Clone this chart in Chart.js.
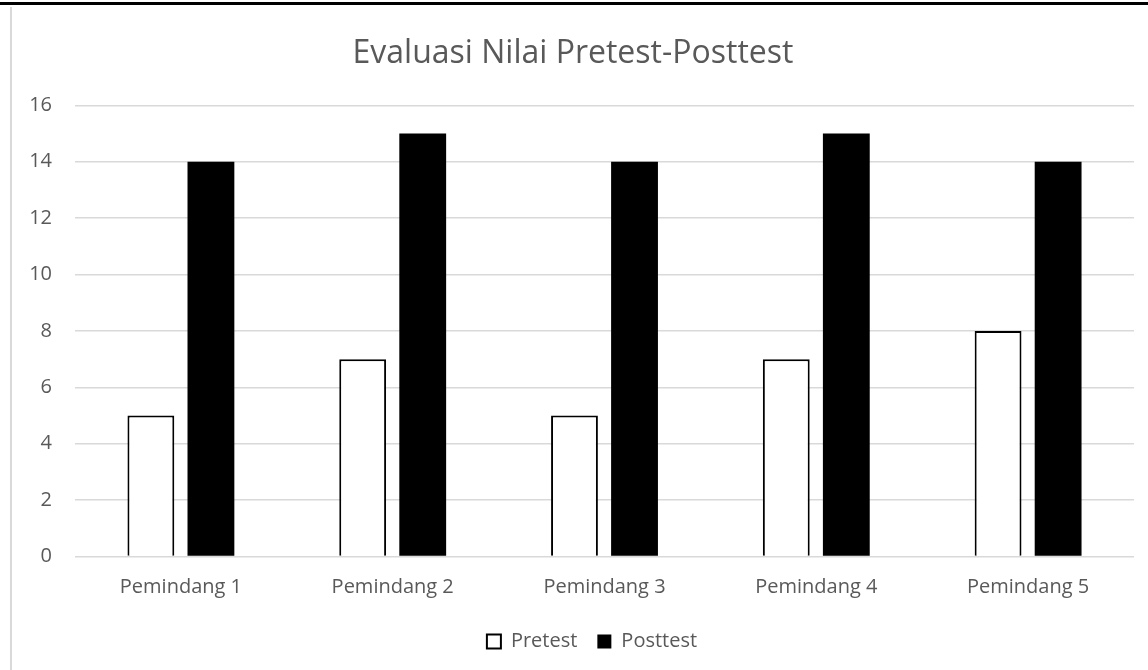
<!DOCTYPE html>
<html>
<head>
<meta charset="utf-8">
<script src="https://cdn.jsdelivr.net/npm/chart.js@4"></script>
<style>
    html, body { margin: 0; padding: 0; background: #fff; }
    body { width: 1148px; height: 670px; position: relative; overflow: hidden; }
    .topline { position: absolute; left: 0; top: 2px; width: 1148px; height: 3px; background: #000; }
    .frame { position: absolute; left: 10px; top: 7px; width: 1138px; height: 663px; border-left: 2px solid #d9d9d9; box-sizing: border-box; }
    .frame canvas { display: block; }
</style>
</head>
<body>
<div class="topline"></div>
<div class="frame">
    <canvas id="nilaiChart" width="1136" height="663"></canvas>
</div>
<script>
// Data
const categories = ['Pemindang 1', 'Pemindang 2', 'Pemindang 3', 'Pemindang 4', 'Pemindang 5'];
const pretest = [5, 7, 5, 7, 8];
const posttest = [14, 15, 14, 15, 14];
const yTicks = [0, 2, 4, 6, 8, 10, 12, 14, 16];

document.addEventListener('DOMContentLoaded', function() {
    const textColor = '#595959';
    const font = 'Open Sans';

    // legend sits a bit right of center in the original
    const shiftLegend = {
        id: 'shiftLegend',
        afterLayout: function(chart) {
            chart.legend.left += 19;
            chart.legend.right += 19;
        }
    };

    new Chart(document.getElementById('nilaiChart'), {
        type: 'bar',
        data: {
            labels: categories,
            datasets: [{
                label: 'Pretest',
                data: pretest,
                backgroundColor: '#ffffff',
                borderColor: '#000000',
                borderWidth: { left: 2, right: 2, top: 2, bottom: 0 },
                borderSkipped: false,
                categoryPercentage: 0.567,
                barPercentage: 0.78
            }, {
                label: 'Posttest',
                data: posttest,
                backgroundColor: '#000000',
                borderColor: '#000000',
                borderWidth: 0,
                categoryPercentage: 0.567,
                barPercentage: 0.78
            }]
        },
        options: {
            responsive: false,
            animation: false,
            layout: {
                padding: { left: 0, right: 14, top: 0, bottom: 8.5 }
            },
            plugins: {
                title: {
                    display: true,
                    text: 'Evaluasi Nilai Pretest-Posttest',
                    color: textColor,
                    font: { family: font, size: 32, weight: 'normal' },
                    padding: { top: 27.5, bottom: 32.5 }
                },
                legend: {
                    position: 'bottom',
                    labels: {
                        color: textColor,
                        font: { family: font, size: 20 },
                        boxWidth: 14,
                        boxHeight: 14,
                        padding: 20,
                        useBorderRadius: false,
                        generateLabels: function(chart) {
                            return chart.data.datasets.map(function(ds, i) {
                                return {
                                    text: ds.label,
                                    fillStyle: ds.backgroundColor,
                                    strokeStyle: '#000000',
                                    lineWidth: i === 0 ? 2 : 0,
                                    fontColor: textColor,
                                    datasetIndex: i
                                };
                            });
                        }
                    }
                },
                tooltip: { enabled: false }
            },
            scales: {
                x: {
                    grid: { display: false },
                    border: { display: false },
                    afterFit: function(scale) {
                        scale.height = 55;
                    },
                    ticks: {
                        color: textColor,
                        font: { family: font, size: 20 },
                        padding: 11
                    }
                },
                y: {
                    min: 0,
                    max: 16,
                    afterBuildTicks: function(scale) {
                        scale.ticks = yTicks.map(function(v) { return { value: v }; });
                    },
                    afterFit: function(scale) {
                        scale.width = 63;
                    },
                    grid: {
                        color: '#d9d9d9',
                        lineWidth: 1.5,
                        drawTicks: false
                    },
                    border: { display: false },
                    ticks: {
                        color: textColor,
                        font: { family: font, size: 20 },
                        padding: 23
                    }
                }
            }
        },
        plugins: [shiftLegend]
    });
});
</script>
</body>
</html>
